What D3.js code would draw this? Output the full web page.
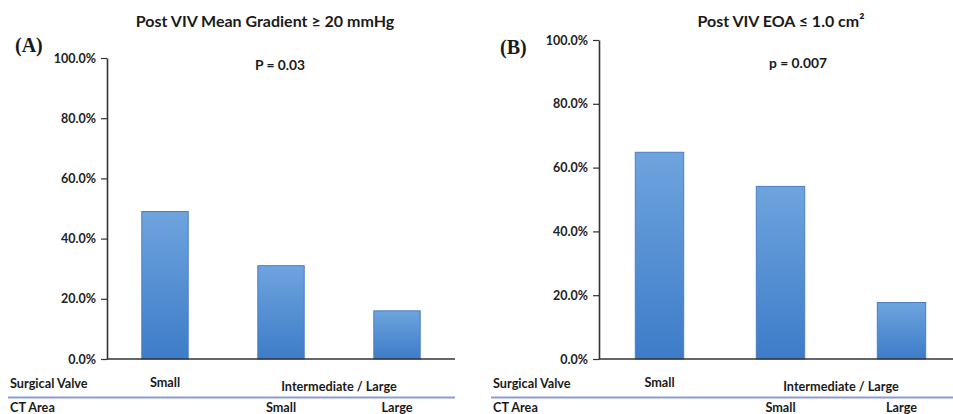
<!DOCTYPE html>
<html>
<head>
<meta charset="utf-8">
<script src="https://cdn.jsdelivr.net/npm/d3@7"></script>
<style>
  body { margin: 0; background: #fff; }
  svg { display: block; }
  text { font-family: Lato, "Open Sans", sans-serif; fill: #1a1a1a; }
</style>
</head>
<body>
<div id="chart"></div>
<script>
// data
var categories = ["Small", "Intermediate / Large - Small CT", "Intermediate / Large - Large CT"];
var gradientValues = [0.49, 0.31, 0.16];   // panel A
var eoaValues = [0.648, 0.541, 0.177];     // panel B
var tickValues = [0, 0.2, 0.4, 0.6, 0.8, 1.0];
var surgicalValveLabels = ["Small", "Intermediate / Large"];
var ctAreaLabels = ["Small", "Large"];

var w = 953, h = 414;

var svg = d3.select("#chart").append("svg")
    .attr("width", w)
    .attr("height", h);

// bar fill gradient, lighter at top
var grad = svg.append("defs").append("linearGradient")
    .attr("id", "barFill")
    .attr("x1", 0).attr("y1", 0).attr("x2", 0).attr("y2", 1);
grad.append("stop").attr("offset", "0%").attr("stop-color", "#6ea4de");
grad.append("stop").attr("offset", "100%").attr("stop-color", "#3d7cc9");

function panel(opts) {
    var x = d3.scaleBand()
        .domain(categories)
        .range([opts.left, opts.right])
        .paddingInner(0.6)
        .paddingOuter(0.3);

    var y = d3.scaleLinear()
        .domain([0, 1])
        .range([opts.bottom, opts.top]);

    var g = svg.append("g");

    // bars
    g.selectAll("rect.bar")
        .data(opts.values)
        .enter().append("rect")
        .attr("class", "bar")
        .attr("x", function (d, i) { return x(categories[i]); })
        .attr("y", function (d) { return y(d); })
        .attr("width", x.bandwidth())
        .attr("height", function (d) { return y(0) - y(d); })
        .attr("fill", "url(#barFill)")
        .attr("stroke", "#4a7ec2")
        .attr("stroke-width", 1);

    // y axis
    var yAxis = g.append("g")
        .attr("transform", "translate(" + opts.left + ",0)")
        .call(d3.axisLeft(y)
            .tickValues(tickValues)
            .tickFormat(d3.format(".1%"))
            .tickSize(6)
            .tickSizeOuter(0));
    yAxis.select(".domain").attr("stroke", "#333").attr("stroke-width", 1.6);
    yAxis.selectAll(".tick line").attr("stroke", "#333").attr("stroke-width", 1.2);
    yAxis.selectAll(".tick text")
        .attr("x", -11)
        .style("font-family", "Lato, sans-serif")
        .style("font-size", "12.5px")
        .style("font-weight", "bold")
        .style("fill", "#222");

    // x baseline
    g.append("line")
        .attr("x1", opts.left).attr("x2", opts.axisEnd)
        .attr("y1", y(0)).attr("y2", y(0))
        .attr("stroke", "#333").attr("stroke-width", 1.6);

    // title, p value, panel letter
    g.append("text")
        .attr("x", opts.titleX).attr("y", 27)
        .attr("text-anchor", "middle")
        .style("font-size", "16px").style("font-weight", "bold")
        .text(opts.title);
    g.append("text")
        .attr("x", opts.pX).attr("y", opts.pY)
        .attr("text-anchor", "middle")
        .style("font-size", "13.8px").style("font-weight", "bold")
        .text(opts.pText);
    g.append("text")
        .attr("x", opts.letterX).attr("y", opts.letterY)
        .style("font-family", "'Liberation Serif', 'Times New Roman', serif")
        .style("font-size", "20px").style("font-weight", "bold")
        .text(opts.letter);

    // category rows under the axis
    var c0 = x(categories[0]) + x.bandwidth() / 2,
        c1 = x(categories[1]) + x.bandwidth() / 2,
        c2 = x(categories[2]) + x.bandwidth() / 2;

    var rowFont = function (sel) {
        return sel.style("font-size", "12.7px").style("font-weight", "bold");
    };

    g.append("text").attr("x", opts.rowX).attr("y", 388).text("Surgical Valve").call(rowFont);
    g.append("text").attr("x", c0).attr("y", 387).attr("text-anchor", "middle")
        .text(surgicalValveLabels[0]).call(rowFont);
    g.append("text").attr("x", (c1 + c2) / 2).attr("y", 391).attr("text-anchor", "middle")
        .text(surgicalValveLabels[1]).call(rowFont);

    g.append("line")
        .attr("x1", opts.rowX - 2).attr("x2", opts.axisEnd)
        .attr("y1", 397.5).attr("y2", 397.5)
        .attr("stroke", "#8c9bd8").attr("stroke-width", 2);

    g.append("text").attr("x", opts.rowX).attr("y", 412).text("CT Area").call(rowFont);
    g.append("text").attr("x", c1).attr("y", 412).attr("text-anchor", "middle")
        .text(ctAreaLabels[0]).call(rowFont);
    g.append("text").attr("x", c2).attr("y", 412).attr("text-anchor", "middle")
        .text(ctAreaLabels[1]).call(rowFont);
}

panel({
    values: gradientValues,
    left: 107, right: 455, axisEnd: 455,
    top: 58, bottom: 359,
    title: "Post VIV Mean Gradient \u2265 20 mmHg", titleX: 265,
    pText: "P = 0.03", pX: 280, pY: 70,
    letter: "(A)", letterX: 15, letterY: 52,
    rowX: 10
});

panel({
    values: eoaValues,
    left: 599, right: 962, axisEnd: 953,
    top: 40, bottom: 359,
    title: "Post VIV EOA \u2264 1.0 cm\u00B2", titleX: 781,
    pText: "p = 0.007", pX: 798, pY: 68,
    letter: "(B)", letterX: 500, letterY: 54,
    rowX: 493
});
</script>
</body>
</html>
